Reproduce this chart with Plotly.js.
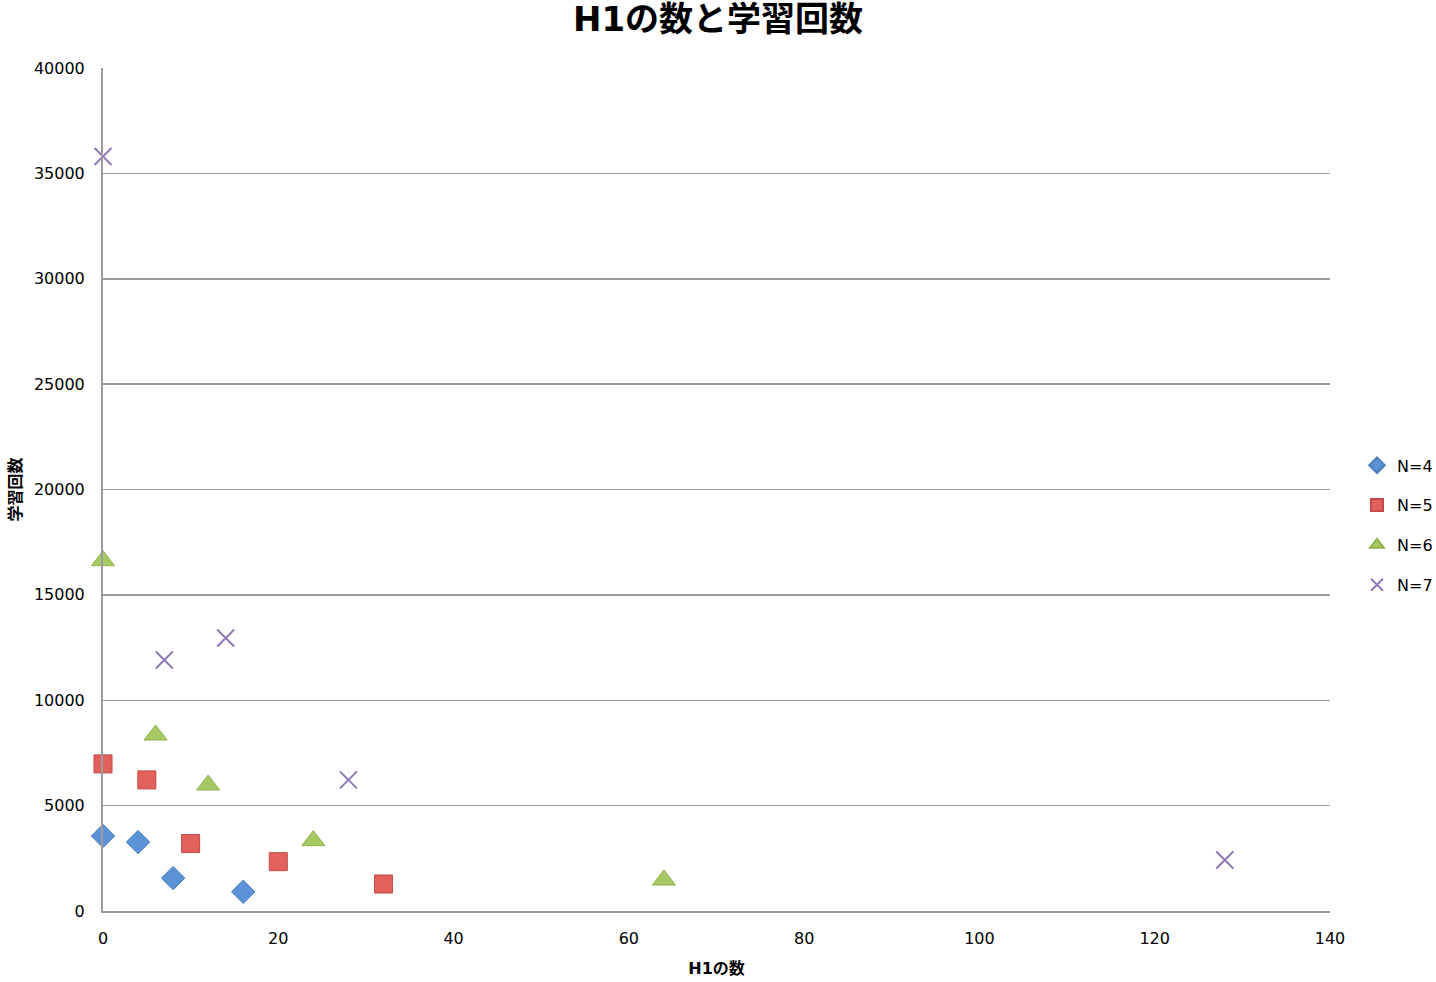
<!DOCTYPE html>
<html>
<head>
<meta charset="utf-8">
<script src="https://cdn.plot.ly/plotly-3.0.1.min.js"></script>
<style>
  html, body { margin: 0; padding: 0; background: #fff; }
  #graph { width: 1436px; height: 982px; }
</style>
</head>
<body>
<div id="graph"></div>
<script>
// H1の数 (x) と 学習回数 (y)
const n4X = [0, 4, 8, 16];
const n4Y = [3560, 3270, 1560, 910];

const n5X = [0, 5, 10, 20, 32];
const n5Y = [6980, 6220, 3200, 2340, 1280];

const n6X = [0, 6, 12, 24, 64];
const n6Y = [16620, 8350, 5980, 3340, 1470];

const n7X = [0, 7, 14, 28, 128];
const n7Y = [35800, 11910, 12950, 6220, 2420];

const FONT = 'DejaVu Sans, "Noto Sans CJK JP", sans-serif';

function series(name, xs, ys, marker, group) {
    return {
        name: name,
        x: xs,
        y: ys,
        mode: 'markers',
        type: 'scatter',
        marker: marker,
        legendgroup: group,
        cliponaxis: false
    };
}

const data = [
    series('N=4', n4X, n4Y, {
        symbol: 'diamond', size: 18, color: '#5b93d6',
        line: {color: '#4a7fc0', width: 1}
    }, 'a'),
    series('N=5', n5X, n5Y, {
        symbol: 'square', size: 18, color: '#e2615c',
        line: {color: '#c44a45', width: 1}
    }, 'b'),
    series('N=6', n6X, n6Y, {
        symbol: 'triangle-up', size: 20, color: '#a6c964',
        line: {color: '#8fb04e', width: 1}
    }, 'c'),
    series('N=7', n7X, n7Y, {
        symbol: 'x-thin-open', size: 17, color: '#9079b4',
        line: {color: '#9079b4', width: 2}
    }, 'd')
];

const layout = {
    width: 1436,
    height: 982,
    paper_bgcolor: 'white',
    plot_bgcolor: 'white',
    font: {family: FONT, color: '#000', size: 16},
    margin: {l: 103, r: 106, t: 68, b: 71},
    title: {
        text: '<b>H1の数と学習回数</b>',
        font: {family: FONT, size: 34, color: '#000'},
        x: 0.5, xanchor: 'center',
        y: 0.981, yanchor: 'middle'
    },
    xaxis: {
        range: [0, 140],
        dtick: 20,
        tickformat: 'd',
        showgrid: false,
        zeroline: false,
        showline: true,
        linecolor: '#9c9c9c',
        linewidth: 2,
        ticks: 'outside',
        ticklen: 12,
        tickcolor: 'rgba(0,0,0,0)',
        tickfont: {size: 16},
        title: {text: '<b>H1の数</b>', font: {size: 16}, standoff: 16}
    },
    yaxis: {
        range: [0, 40000],
        dtick: 5000,
        tickformat: 'd',
        showgrid: true,
        gridcolor: '#9c9c9c',
        gridwidth: 1.5,
        zeroline: false,
        showline: true,
        linecolor: '#9c9c9c',
        linewidth: 2,
        ticks: 'outside',
        ticklen: 13,
        tickcolor: 'rgba(0,0,0,0)',
        tickfont: {size: 16},
        title: {text: '<b>学習回数</b>', font: {size: 16}, standoff: 8}
    },
    legend: {
        xref: 'container', yref: 'container',
        x: 0.945, xanchor: 'left',
        y: 0.465, yanchor: 'middle',
        font: {size: 16},
        tracegroupgap: 16,
        itemwidth: 30,
        itemsizing: 'constant',
        bgcolor: 'rgba(0,0,0,0)'
    }
};

Plotly.newPlot('graph', data, layout, {displayModeBar: false, staticPlot: true});
</script>
</body>
</html>
